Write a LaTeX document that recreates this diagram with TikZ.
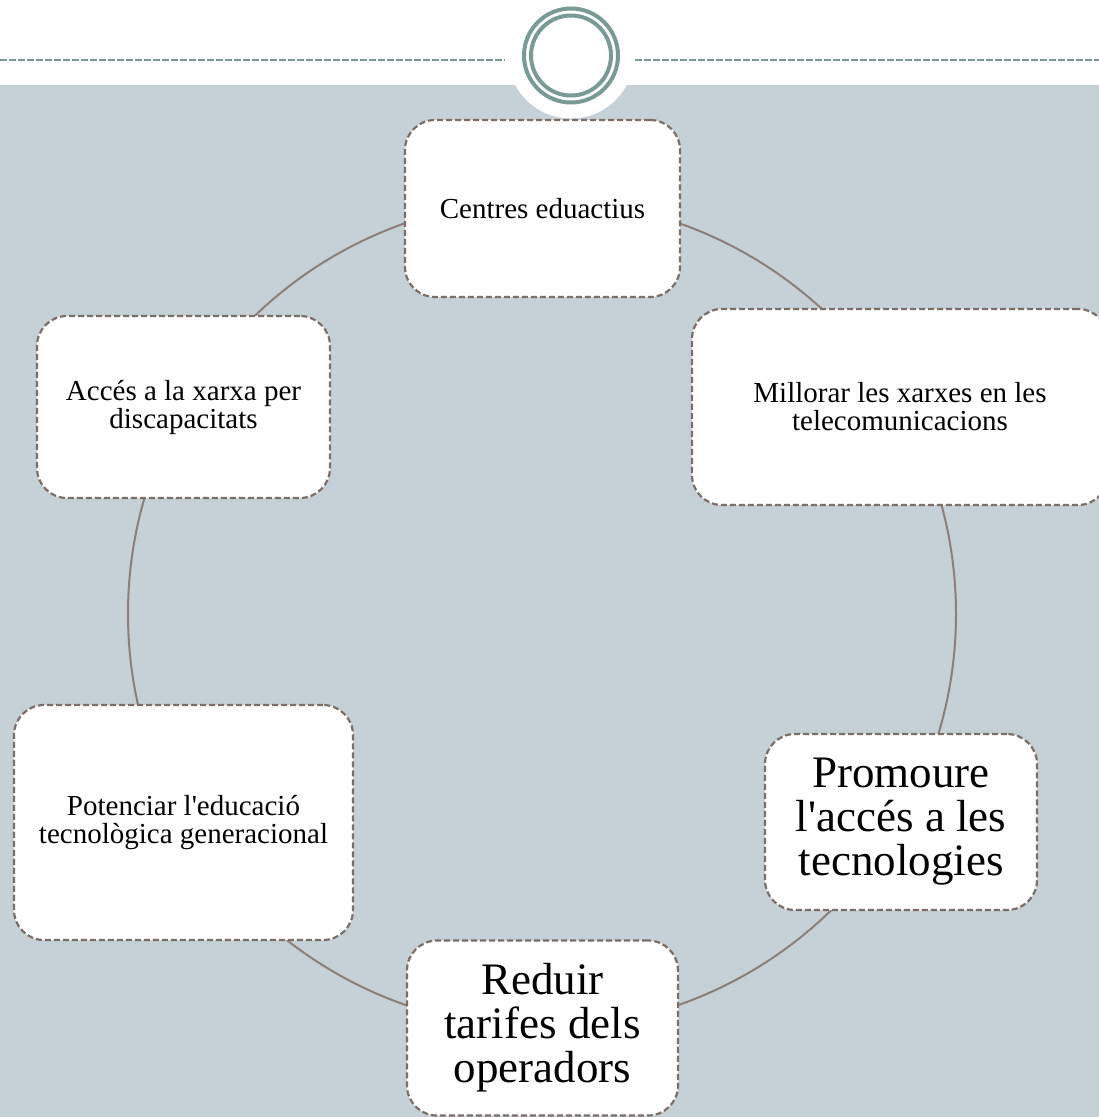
\documentclass[tikz,border=0pt]{standalone}
\usepackage{fontspec}
\setmainfont{Liberation Serif}
\definecolor{bgc}{RGB}{197,209,215}
\definecolor{tealc}{RGB}{122,154,150}
\definecolor{boxline}{RGB}{125,110,102}
\definecolor{arcc}{RGB}{140,127,120}
\begin{document}
\begin{tikzpicture}[x=1pt,y=-1pt,
  box/.style={draw=boxline, line width=2.2pt, dash pattern=on 6pt off 3pt, fill=white,
    rounded corners=30pt, align=center, inner sep=0pt, text=black, rectangle},
  smalltxt/.style={font=\fontsize{29}{28}\selectfont},
  bigtxt/.style={font=\fontsize{45}{44}\selectfont}]
\useasboundingbox (0,0) rectangle (1099,1117);
\clip (0,0) rectangle (1099,1117);
% background
\fill[bgc] (0,85) rectangle (1099,1117);
\fill[white] (571,55.5) circle[radius=63pt];
% top dashed rule
\coordinate (l0) at (0,60);
\coordinate (l1) at (505,60);
\coordinate (r0) at (635,60);
\coordinate (r1) at (1099,60);
\draw[tealc, line width=2pt, dash pattern=on 6.5pt off 2.5pt] (l0) -- (l1);
\draw[tealc, line width=2pt, dash pattern=on 6.5pt off 2.5pt] (r0) -- (r1);
% emblem
\node[circle, draw=tealc, line width=4pt, minimum size=94pt, inner sep=0pt] (emblemout) at (571,55.5) {};
\node[circle, draw=tealc, line width=4pt, minimum size=80pt, inner sep=0pt] (emblemin) at (571,55.5) {};
% cycle ring
\node[circle, draw=arcc, line width=2pt, minimum size=828pt, inner sep=0pt] (ring) at (542,614) {};
% boxes
\node[box, smalltxt, minimum width=275pt, minimum height=177pt] (centres) at (542.5,208.5) {Centres eduactius};
\node[box, smalltxt, minimum width=416pt, minimum height=196pt] (millorar) at (900,407) {Millorar les xarxes en les\\telecomunicacions};
\node[box, bigtxt, minimum width=272pt, minimum height=176pt] (promoure) at (901,822) {Promoure\\l\textquotesingle accés a les\\tecnologies};
\node[box, bigtxt, minimum width=271pt, minimum height=175pt] (reduir) at (542.5,1028) {Reduir\\tarifes dels\\operadors};
\node[box, smalltxt, minimum width=339pt, minimum height=235pt] (potenciar) at (183.5,822.5) {Potenciar l\textquotesingle educació\\tecnològica generacional};
\node[box, smalltxt, minimum width=293pt, minimum height=182pt] (acces) at (183.5,407) {Accés a la xarxa per\\discapacitats};
\end{tikzpicture}
\end{document}
